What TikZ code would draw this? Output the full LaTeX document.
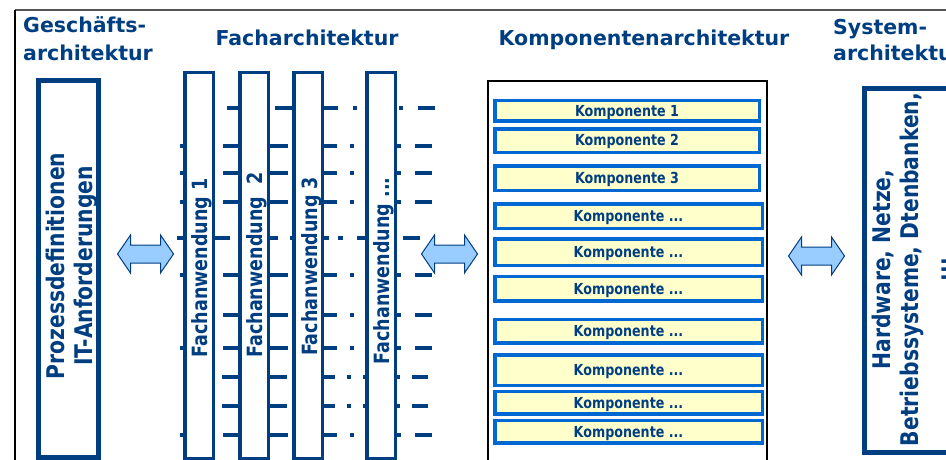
\documentclass[tikz,border=0pt]{standalone}
\usepackage{fontspec}
\setmainfont{DejaVu Sans}
\newfontfamily\widesans{DejaVu Sans}
\newfontfamily\narrowsans{DejaVu Sans}[FakeStretch=0.835]

\definecolor{deepblue}{RGB}{0,62,130}
\definecolor{compblue}{RGB}{0,104,210}
\definecolor{compfill}{RGB}{255,255,204}
\definecolor{arrowfill}{RGB}{153,204,255}
\definecolor{framegray}{RGB}{85,85,85}

\tikzset{
  dblarrow/.pic={
    \path[blockarrow] (-28,0) -- (-15,-19) -- (-15,-9) -- (15,-9) -- (15,-19)
      -- (28,0) -- (15,19) -- (15,9) -- (-15,9) -- (-15,19) -- cycle;
  }
}

\begin{document}
\begin{tikzpicture}[x=1pt,y=-1pt,
  title/.style={inner sep=0pt, text=deepblue,
    font=\widesans\bfseries\fontsize{20.5}{28}\selectfont},
  layerbox/.style={draw=deepblue, line width=5pt, fill=white, inner sep=0pt},
  appbox/.style={draw=deepblue, line width=3.5pt, fill=white, inner sep=0pt,
    minimum width=28.5pt, minimum height=385.5pt},
  compbox/.style={draw=compblue, line width=3.5pt, fill=compfill, inner sep=0pt,
    text=deepblue, font=\narrowsans\bfseries\fontsize{15.2}{18}\selectfont,
    text height=11pt, text depth=0pt},
  wide/.style={compbox, minimum width=267.5pt},
  narrow/.style={compbox, minimum width=264.5pt},
  vlabel/.style={rotate=90, anchor=north, inner sep=0pt, text=deepblue},
  applabel/.style={vlabel, font=\narrowsans\bfseries\fontsize{21}{25}\selectfont},
  biglabel/.style={vlabel, align=center,
    font=\narrowsans\bfseries\fontsize{24.3}{28}\selectfont},
  link/.style={draw=deepblue, line width=4pt},
  blockarrow/.style={draw=deepblue, line width=1pt, fill=arrowfill, line join=miter},
]
\useasboundingbox (0,0) rectangle (946,460);
\clip (0,0) rectangle (946,460);

% outer frame
\draw[line width=1.3pt, draw=framegray] (15,10) -- (946,10);
\draw[line width=1.1pt] (15,10) -- (15,460);

% column headings
\node[title, anchor=south west, align=left] (t-gesch) at (23,61) {Geschäfts-\\architektur};
\node[title, anchor=base] (t-fach) at (307,46) {Facharchitektur};
\node[title, anchor=base] (t-komp) at (644,46) {Komponentenarchitektur};
\node[title, anchor=south west, align=left,
  font=\widesans\bfseries\fontsize{20.5}{26}\selectfont] (t-sys) at (833,61) {System-\\architektur};

% links between the applications
\foreach \yy in {146,173,202,275,348,435}{
  \foreach \xa/\xb in {180/184, 223/240, 268/288, 322/337, 350/354, 395/401, 415/432}
    \draw[link] (\xa,\yy) -- (\xb,\yy);
}
\foreach \xa/\xb in {223/240, 268/288, 322/337, 350/354, 395/401, 415/432}
  \draw[link] (\xa,315) -- (\xb,315);
\foreach \yy in {377,406}{
  \foreach \xa/\xb in {222/240, 268/287, 322/335, 347/351, 363/367, 395/400, 412/428}
    \draw[link] (\xa,\yy) -- (\xb,\yy);
}
\foreach \xa/\xb in {227/240, 275/294, 322/338, 353/357, 399/403, 418/435}
  \draw[link] (\xa,108) -- (\xb,108);
\foreach \xa/\xb in {177/184, 213/230, 268/278, 290/294, 322/329, 338/343, 357/367, 403/420}
  \draw[link] (\xa,238) -- (\xb,238);

% business architecture
\node[layerbox, minimum width=60pt, minimum height=377pt] (gesch) at (68.5,269) {};
\node[biglabel] (gesch-txt) at (46.3,266) {Prozessdefinitionen\\IT-Anforderungen};

% applications
\foreach \i/\cx in {1/199.2, 2/254.2, 3/308.2, 4/381.2}
  \node[appbox] (app\i) at (\cx,265.5) {};
\node[applabel] (app1-txt) at (191.6,268) {Fachanwendung 1};
\node[applabel] (app2-txt) at (246.6,265) {Fachanwendung\ \ 2};
\node[applabel] (app3-txt) at (301.6,266.5) {Fachanwendung 3};
\node[applabel] (app4-txt) at (373.6,271) {Fachanwendung ...};

% component architecture
\node[draw=black, line width=1.6pt, inner sep=0pt, minimum width=279.4pt,
  minimum height=399.2pt] (kframe) at (627.5,280.4) {};
\node[narrow, minimum height=20.5pt] (k1) at (627,111) {Komponente 1};
\node[narrow, minimum height=23.5pt] (k2) at (627,140.5) {Komponente 2};
\node[narrow, minimum height=24.5pt] (k3) at (627,178) {Komponente 3};
\node[wide, minimum height=24.5pt] (k4) at (628.5,216) {Komponente ...};
\node[wide, minimum height=26.5pt] (k5) at (628.5,252) {Komponente ...};
\node[wide, minimum height=24.5pt] (k6) at (628.5,288.5) {Komponente ...};
\node[wide, minimum height=23.5pt] (k7) at (628.5,331) {Komponente ...};
\node[wide, minimum height=30.5pt] (k8) at (628.5,370) {Komponente ...};
\node[wide, minimum height=22.5pt] (k9) at (628.5,402.5) {Komponente ...};
\node[wide, minimum height=22.5pt] (k10) at (628.5,431.5) {Komponente ...};

% system architecture
\node[layerbox, minimum width=105.5pt, minimum height=364pt] (sys) at (917.25,270.5) {};
\node[biglabel] (sys-txt) at (872.3,269.5) {Hardware, Netze,\\Betriebssysteme, Dtenbanken,\\...};

% exchange between the layers
\pic (arr1) at (145.5,254) {dblarrow};
\pic (arr2) at (449.5,254) {dblarrow};
\pic (arr3) at (816.5,256) {dblarrow};
\end{tikzpicture}
\end{document}
